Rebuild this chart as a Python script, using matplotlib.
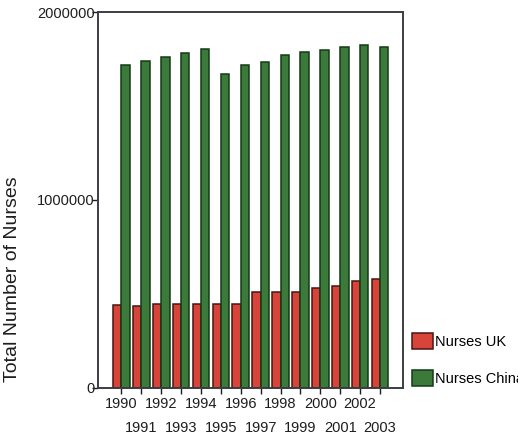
import matplotlib
matplotlib.use("Agg")
import matplotlib.pyplot as plt
from matplotlib.patches import Patch
from matplotlib.transforms import Bbox
import numpy as np

plt.rcParams['font.family'] = ['Liberation Sans', 'DejaVu Sans']

years = [1990, 1991, 1992, 1993, 1994, 1995, 1996,
         1997, 1998, 1999, 2000, 2001, 2002, 2003]
nurses_uk = [440000, 438000, 445000, 445000, 445000, 445000, 445000,
             510000, 510000, 510000, 531000, 544000, 567000, 579000]
nurses_china = [1716000, 1738000, 1759000, 1781000, 1802000, 1668000, 1716000,
                1733000, 1770000, 1786000, 1797000, 1813000, 1824000, 1813000]
y_ticks = [0, 1000000, 2000000]

red = '#d8433a'
red_edge = '#4a1512'
green = '#3b7a3a'
green_edge = '#143a16'
spine_col = '#3a3d42'
text_col = '#1e1e1e'

fig = plt.figure(figsize=(5.31, 4.38), dpi=100)
ax = fig.add_axes([0.1846, 0.1142, 0.5744, 0.8584])

x = np.arange(len(years))
w = 0.42
ax.bar(x - w / 2, nurses_uk, width=w, color=red, edgecolor=red_edge,
       linewidth=1.1, label='Nurses UK')
ax.bar(x + w / 2, nurses_china, width=w, color=green, edgecolor=green_edge,
       linewidth=1.1, label='Nurses China')

ax.set_xlim(-1.18, len(years) - 1 + 1.16)
ax.set_ylim(0, 2000000)

# y axis
ax.set_yticks(y_ticks)
ax.set_yticklabels([str(v) for v in y_ticks])
ax.tick_params(axis='y', length=4, width=1.0, pad=-1.5, labelsize=10.5,
               colors=text_col)

# x axis: even years on the first row, odd years on the second
even = [i for i in x if years[i] % 2 == 0]
odd = [i for i in x if years[i] % 2 == 1]
ax.set_xticks(even)
ax.set_xticklabels([str(years[i]) for i in even])
ax.set_xticks(odd, minor=True)
ax.set_xticklabels([str(years[i]) for i in odd], minor=True)
ax.tick_params(axis='x', which='major', length=4, width=1.0, pad=2.5,
               labelsize=10.5, colors=text_col)
ax.tick_params(axis='x', which='minor', length=4, width=1.0, pad=19.5,
               labelsize=10.5, colors=text_col)

for s in ax.spines.values():
    s.set_color(spine_col)
    s.set_linewidth(1.4)

ax.set_ylabel('Total Number of Nurses', fontsize=14, color=text_col)
ax.yaxis.set_label_coords(-0.252, 0.29)

handles = [Patch(facecolor=red, edgecolor=red_edge, linewidth=1.1),
           Patch(facecolor=green, edgecolor=green_edge, linewidth=1.1)]
leg = fig.legend(handles, ['Nurses UK', 'Nurses China'], loc='center left',
                 bbox_to_anchor=(0.776, 0.179), frameon=False, fontsize=10.5,
                 handlelength=1.45, handleheight=1.25, handletextpad=0.15,
                 labelspacing=1.45, borderpad=0, borderaxespad=0)

# the legend text runs past the right margin of the page
clip = Bbox.from_extents(0, 0, 518, 438)
for t in leg.get_texts():
    t.set_clip_box(clip)
    t.set_clip_on(True)

fig.savefig('out.png', dpi=100, facecolor='white')
